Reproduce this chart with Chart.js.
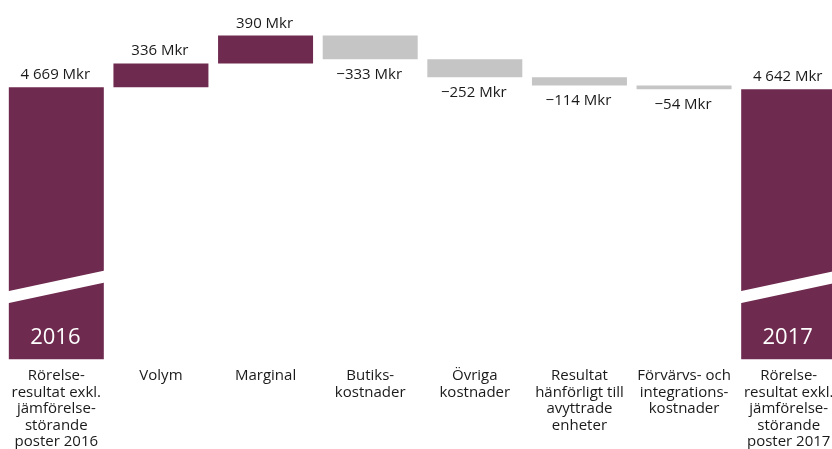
<!DOCTYPE html>
<html lang="sv">
<head>
<meta charset="utf-8">
<title>Rörelseresultat 2016–2017</title>
<script src="https://cdn.jsdelivr.net/npm/chart.js@4/dist/chart.umd.min.js"></script>
<style>
    html, body { margin: 0; padding: 0; background: #fff; overflow: hidden; }
    .chart-box { position: absolute; left: 0; top: 0; width: 842px; height: 449px; }
</style>
</head>
<body>
<div class="chart-box"><canvas id="bridge"></canvas></div>
<script>
// Data
const categories = [
    ["Rörelse-", "resultat exkl.", "jämförelse-", "störande", "poster 2016"],
    "Volym",
    "Marginal",
    ["Butiks-", "kostnader"],
    ["Övriga", "kostnader"],
    ["Resultat", "hänförligt till", "avyttrade", "enheter"],
    ["Förvärvs- och", "integrations-", "kostnader"],
    ["Rörelse-", "resultat exkl.", "jämförelse-", "störande", "poster 2017"]
];
const values = [4669, 336, 390, -333, -252, -114, -54, 4642];
const isTotal = [true, false, false, false, false, false, false, true];
const yearLabels = ["2016", "", "", "", "", "", "", "2017"];
const axisMin = 850;
const axisMax = 5600;

const PURPLE = "#6f2a4f";
const GREY = "#c5c5c5";
const TEXT = "#1a1a1a";
const FONT = "'Open Sans', 'Noto Sans', sans-serif";

// build the waterfall: totals rise from the (broken) axis floor, changes float on the running sum
let running = 0;
const barData = values.map((v, i) => {
    if (isTotal[i]) {
        running = v;
        return [axisMin, v];
    }
    const from = running;
    running += v;
    return [from, running];
});
const barColors = values.map((v, i) => (isTotal[i] || v > 0) ? PURPLE : GREY);

function formatMkr(v) {
    const s = String(Math.abs(v)).replace(/\B(?=(\d{3})+(?!\d))/g, " ");
    return (v < 0 ? "\u2212" : "") + s + " Mkr";
}

// value labels, axis break and year text
const bridgeLabels = {
    id: "bridgeLabels",
    afterDatasetsDraw(chart) {
        const ctx = chart.ctx;
        const meta = chart.getDatasetMeta(0);
        ctx.save();
        meta.data.forEach((bar, i) => {
            const top = Math.min(bar.y, bar.base);
            const bottom = Math.max(bar.y, bar.base);
            const left = bar.x - bar.width / 2;
            const right = bar.x + bar.width / 2;

            if (isTotal[i]) {
                // white slanted break
                ctx.fillStyle = "#ffffff";
                ctx.beginPath();
                ctx.moveTo(left - 1, bottom - 68.3);
                ctx.lineTo(right + 1, bottom - 88.9);
                ctx.lineTo(right + 1, bottom - 76.9);
                ctx.lineTo(left - 1, bottom - 56.3);
                ctx.closePath();
                ctx.fill();

                ctx.fillStyle = "#ffffff";
                ctx.font = "22px " + FONT;
                ctx.textAlign = "center";
                ctx.textBaseline = "alphabetic";
                ctx.fillText(yearLabels[i], bar.x - 1, bottom - 16);
            }

            ctx.fillStyle = TEXT;
            ctx.font = "15px " + FONT;
            ctx.textAlign = "center";
            ctx.textBaseline = "alphabetic";
            if (values[i] >= 0) {
                ctx.fillText(formatMkr(values[i]), bar.x - 1, top - 8);
            } else {
                ctx.fillText(formatMkr(values[i]), bar.x - 1, bottom + 20);
            }
        });
        ctx.restore();
    }
};

new Chart(document.getElementById("bridge"), {
    type: "bar",
    data: {
        labels: categories,
        datasets: [{
            data: barData,
            backgroundColor: barColors,
            borderWidth: 0,
            categoryPercentage: 1,
            barPercentage: 0.908
        }]
    },
    options: {
        responsive: true,
        maintainAspectRatio: false,
        animation: false,
        layout: { padding: { left: 4, right: 1, top: 21, bottom: -9 } },
        scales: {
            x: {
                grid: { display: false, drawTicks: false },
                border: { display: false },
                ticks: {
                    color: TEXT,
                    font: { family: FONT, size: 15, lineHeight: 1.1 },
                    padding: 8,
                    maxRotation: 0,
                    minRotation: 0,
                    autoSkip: false
                }
            },
            y: {
                display: false,
                min: axisMin,
                max: axisMax
            }
        },
        plugins: {
            legend: { display: false },
            tooltip: { enabled: false }
        }
    },
    plugins: [bridgeLabels]
});
</script>
</body>
</html>
